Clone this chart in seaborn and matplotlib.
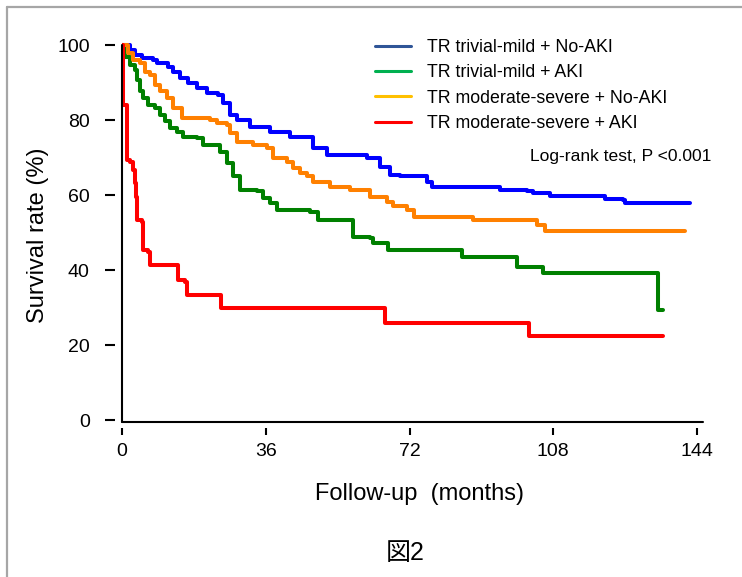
import matplotlib
matplotlib.use("Agg")
import matplotlib.pyplot as plt
import seaborn as sns
import pandas as pd
from matplotlib.lines import Line2D

# ------------------------------------------------------------
# Kaplan-Meier step values (months, % alive)
# ------------------------------------------------------------
groups = [
    "TR trivial-mild + No-AKI",
    "TR trivial-mild + AKI",
    "TR moderate-severe + No-AKI",
    "TR moderate-severe + AKI",
]

blue_time = [0, 2.0, 3.3, 4.9, 7.8, 8.7, 11.5, 12.8, 14.5, 16.5, 18.7, 21.2,
             24.0, 25.3, 27.0, 28.7, 32.1, 37.1, 42.1, 47.9, 51.3, 61.3,
             64.6, 67.1, 69.6, 76.3, 77.6, 94.7, 101.4, 103.0, 107.2, 121.0,
             125.5, 126.0, 142.3]
blue_surv = [100, 98.8, 97.5, 96.6, 96.1, 95.2, 94.3, 93.0, 91.2, 89.9, 88.6,
             87.2, 86.8, 84.6, 81.4, 80.1, 78.3, 77.0, 75.6, 72.6, 70.8, 69.9,
             67.6, 65.4, 65.0, 63.6, 62.3, 61.4, 61.2, 60.5, 59.8, 58.9, 58.7,
             57.9, 57.9]

green_time = [0, 0.75, 2.0, 3.3, 3.7, 4.5, 5.3, 6.6, 8.3, 9.5, 10.8, 12.0,
              13.7, 15.4, 18.7, 20.3, 24.5, 26.2, 27.9, 29.6, 33.7, 35.4,
              37.1, 38.7, 47.1, 49.2, 57.9, 62.1, 62.9, 66.7, 85.1, 98.8,
              105.5, 134.3, 135.6]
green_surv = [100, 97.0, 94.8, 93.5, 90.8, 87.7, 85.9, 84.1, 83.2, 81.4, 79.7,
              77.9, 77.0, 75.6, 75.2, 73.4, 71.6, 68.5, 65.0, 61.4, 61.0, 59.2,
              57.9, 56.1, 55.6, 53.4, 48.9, 48.5, 47.2, 45.4, 43.6, 40.9, 39.2,
              29.4, 29.4]

orange_time = [0, 1.6, 2.8, 4.5, 5.8, 7.0, 8.3, 9.5, 11.2, 12.8, 15.0, 22.0,
               23.7, 26.2, 27.0, 28.7, 32.9, 36.2, 37.9, 41.2, 42.9, 44.6,
               46.3, 47.9, 52.1, 57.1, 62.1, 66.3, 67.9, 71.3, 73.0, 88.0,
               103.9, 105.9, 141.0]
orange_surv = [100, 97.9, 96.1, 95.2, 93.0, 92.1, 89.5, 87.7, 85.9, 83.2, 80.6,
               80.1, 79.2, 78.8, 76.6, 74.3, 73.4, 72.6, 69.9, 69.0, 67.2, 65.9,
               65.0, 63.6, 62.3, 61.4, 59.6, 58.3, 57.0, 56.1, 54.3, 53.4, 52.1,
               50.5, 50.5]

red_time = [0, 0.3, 1.2, 2.0, 2.8, 3.3, 3.5, 3.7, 4.9, 5.3, 6.6, 7.0, 14.1,
            15.8, 16.2, 24.9, 65.9, 101.8, 135.6]
red_surv = [100, 84.1, 69.4, 69.0, 66.8, 63.2, 59.6, 53.4, 52.9, 45.4, 44.9,
            41.4, 37.4, 36.9, 33.4, 29.8, 25.8, 22.4, 22.4]

curve_colors = ["#0000ff", "#008000", "#ff8000", "#ff0000"]
legend_colors = ["#2f5597", "#00b050", "#ffc000", "#ff0000"]

x_ticks = [0, 36, 72, 108, 144]
y_ticks = [0, 20, 40, 60, 80, 100]

# long-form table for seaborn
frames = []
for name, t, s in zip(groups,
                      [blue_time, green_time, orange_time, red_time],
                      [blue_surv, green_surv, orange_surv, red_surv]):
    frames.append(pd.DataFrame({"month": t, "survival": s, "group": name}))
km = pd.concat(frames, ignore_index=True)

sns.set_style("white")
plt.rcParams["font.family"] = ["Liberation Sans", "Noto Sans CJK JP", "DejaVu Sans"]
plt.rcParams.update({
    "text.color": "black",
    "axes.labelcolor": "black",
    "xtick.color": "black",
    "ytick.color": "black",
})

W, H = 742, 577
fig = plt.figure(figsize=(W / 100, H / 100), dpi=100)
ax = fig.add_axes([122 / W, 1 - 422 / H, 583 / W, 392 / H])

sns.lineplot(data=km, x="month", y="survival", hue="group",
             hue_order=groups, palette=curve_colors, estimator=None,
             drawstyle="steps-post", linewidth=2.9, legend=False, ax=ax)

ax.set_xlim(0, 146)
ax.set_ylim(-0.53, 104.1)

# R-style detached axes: the real spines carry the ticks only,
# the axis lines themselves are drawn separately
for side in ["top", "right", "left", "bottom"]:
    ax.spines[side].set_visible(False)
ax.spines["left"].set_position(("outward", 5))
ax.spines["bottom"].set_position(("outward", 4))
ax.axvline(0, ymin=0, ymax=100.5 / 104.63, color="black", lw=1.5, clip_on=False)
ax.axhline(-0.53, xmin=0, xmax=145.5 / 146, color="black", lw=1.5, clip_on=False)

ax.set_xticks(x_ticks)
ax.set_yticks(y_ticks)
ax.tick_params(axis="y", direction="out", length=7.2, width=1.5,
               pad=11, labelsize=14, left=True)
ax.tick_params(axis="x", direction="out", length=5, width=1.5,
               pad=6, labelsize=14, bottom=True)

ax.set_ylabel("Survival rate (%)", fontsize=17)
ax.yaxis.set_label_coords(-0.126, 0.477)
ax.set_xlabel("Follow-up  (months)", fontsize=17)
ax.xaxis.set_label_coords(0.511, -0.156)

handles = [Line2D([], [], color=c, lw=2.2) for c in legend_colors]
fig.legend(handles, groups, loc="upper left",
           bbox_to_anchor=(375 / W, 1 - 39 / H), frameon=False,
           fontsize=12.8, handlelength=2.0, handletextpad=0.9,
           labelspacing=0.47, borderpad=0, borderaxespad=0)

fig.text(530 / W, 1 - 157 / H, "Log-rank test, P <0.001", fontsize=12.6,
         va="center", ha="left")
fig.text(405 / W, 1 - 553 / H, "図2", fontsize=18, va="center", ha="center")

# thin grey page frame (top and left edges)
fig.add_artist(Line2D([7 / W, 1], [1 - 7 / H, 1 - 7 / H], color="#a6a6a6",
                      lw=1.6, transform=fig.transFigure))
fig.add_artist(Line2D([7 / W, 7 / W], [0, 1 - 7 / H], color="#a6a6a6",
                      lw=1.6, transform=fig.transFigure))

fig.savefig("out.png", dpi=100)
